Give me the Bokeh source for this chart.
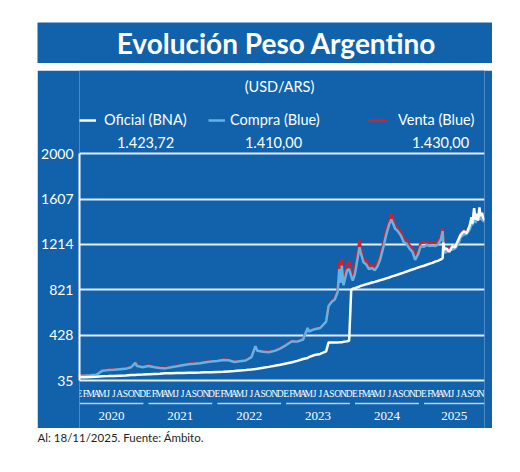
import pandas as pd
from bokeh.plotting import figure
from bokeh.models import Range1d, FixedTicker, Legend, LegendItem, Spacer
from bokeh.layouts import column, row
from bokeh.embed import file_html
from bokeh.resources import INLINE
from bokeh.core.properties import value

# ---------------- data ----------------
fechas = [
    "2020-01-01", "2020-02-01", "2020-03-01", "2020-04-01", "2020-05-01", "2020-06-01",
    "2020-07-01", "2020-08-01", "2020-09-01", "2020-10-01", "2020-10-23", "2020-11-01",
    "2020-12-01", "2021-01-01", "2021-02-01", "2021-03-01", "2021-04-01", "2021-05-01",
    "2021-06-01", "2021-07-01", "2021-08-01", "2021-09-01", "2021-10-01", "2021-11-01",
    "2021-12-01", "2022-01-01", "2022-02-01", "2022-03-01", "2022-04-01", "2022-05-01",
    "2022-06-01", "2022-07-01", "2022-07-22", "2022-08-01", "2022-09-01", "2022-10-01",
    "2022-11-01", "2022-12-01", "2023-01-01", "2023-02-01", "2023-03-01", "2023-04-01",
    "2023-04-25", "2023-05-01", "2023-06-01", "2023-07-01", "2023-08-01", "2023-08-14",
    "2023-09-01", "2023-09-15", "2023-10-01", "2023-10-10", "2023-10-16", "2023-10-23",
    "2023-11-01", "2023-11-10", "2023-11-20", "2023-12-01", "2023-12-12", "2023-12-20",
    "2024-01-01", "2024-01-25", "2024-02-01", "2024-02-15", "2024-03-01", "2024-03-15",
    "2024-04-01", "2024-04-15", "2024-05-01", "2024-05-15", "2024-06-01", "2024-06-15",
    "2024-07-01", "2024-07-12", "2024-07-20", "2024-08-01", "2024-08-15", "2024-09-01",
    "2024-09-15", "2024-10-01", "2024-10-15", "2024-11-01", "2024-11-15", "2024-12-01",
    "2024-12-15", "2025-01-01", "2025-01-15", "2025-02-01", "2025-02-15", "2025-03-01",
    "2025-03-15", "2025-04-01", "2025-04-10", "2025-04-14", "2025-04-20", "2025-05-01",
    "2025-05-15", "2025-06-01", "2025-06-15", "2025-07-01", "2025-07-15", "2025-08-01",
    "2025-08-15", "2025-09-01", "2025-09-10", "2025-09-15", "2025-09-24", "2025-10-01",
    "2025-10-10", "2025-10-15", "2025-10-22", "2025-10-28", "2025-11-05", "2025-11-10",
    "2025-11-18",
]
oficial = [
    63, 64, 66, 68, 71, 73, 75, 77, 79, 82, 83, 84,
    86, 89, 92, 94, 97, 98, 100, 101, 102, 103, 104, 106,
    107, 109, 111, 114, 117, 122, 126, 131, 135, 137, 145, 153,
    162, 171, 183, 193, 205, 221, 230, 237, 256, 265, 287, 365,
    365, 365, 365, 366, 367, 367, 370, 372, 375, 380, 820, 830,
    835, 850, 855, 862, 870, 876, 884, 890, 898, 905, 913, 920,
    928, 935, 940, 945, 953, 962, 970, 980, 988, 997, 1005, 1015,
    1022, 1030, 1038, 1048, 1055, 1065, 1072, 1085, 1095, 1230, 1170, 1180,
    1150, 1200, 1190, 1250, 1300, 1330, 1310, 1380, 1450, 1395, 1530, 1430,
    1480, 1420, 1535, 1460, 1490, 1450, 1423.72,
]
compra = [
    76, 78, 80, 86, 120, 125, 128, 132, 136, 150, 188, 160,
    150, 160, 150, 144, 140, 150, 158, 168, 176, 180, 185, 194,
    200, 205, 212, 210, 196, 202, 208, 238, 333, 292, 284, 280,
    292, 312, 342, 376, 372, 390, 490, 460, 480, 490, 545, 680,
    720, 735, 800, 1000, 880, 1030, 860, 920, 990, 1000, 940, 900,
    960, 1190, 1140, 1060, 1040, 1000, 1010, 990, 1030, 1090, 1200, 1300,
    1390, 1430, 1400, 1350, 1330, 1290, 1235, 1220, 1180, 1150, 1080, 1130,
    1200, 1195, 1210, 1200, 1205, 1200, 1210, 1260, 1330, 1200, 1140, 1150,
    1165, 1170, 1180, 1215, 1280, 1300, 1305, 1345, 1400, 1380, 1500, 1400,
    1450, 1440, 1505, 1430, 1440, 1420, 1410,
]
venta = [
    80, 82, 84, 90, 124, 129, 132, 136, 140, 155, 195, 165,
    154, 165, 154, 148, 144, 154, 162, 172, 180, 184, 189, 198,
    204, 209, 216, 214, 200, 206, 212, 242, 338, 296, 288, 284,
    296, 316, 346, 380, 376, 394, 495, 465, 484, 494, 550, 685,
    730, 745, 815, 1060, 905, 1090, 900, 955, 1040, 1070, 990, 950,
    1000, 1250, 1180, 1090, 1070, 1025, 1035, 1015, 1060, 1125, 1240, 1340,
    1420, 1480, 1440, 1380, 1360, 1320, 1270, 1250, 1210, 1180, 1110, 1160,
    1230, 1230, 1235, 1225, 1230, 1225, 1235, 1290, 1360, 1230, 1170, 1175,
    1190, 1195, 1200, 1240, 1310, 1330, 1330, 1370, 1430, 1405, 1525, 1425,
    1480, 1465, 1535, 1455, 1460, 1445, 1430,
]

series = ["Oficial (BNA)", "Compra (Blue)", "Venta (Blue)"]
ultimos = ["1.423,72", "1.410,00", "1.430,00"]
y_ticks = [35, 428, 821, 1214, 1607, 2000]
letras_mes = ["E", "F", "M", "A", "M", "J", "J", "A", "S", "O", "N", "D"]
anios = [2020, 2021, 2022, 2023, 2024, 2025]
titulo = "Evolución Peso Argentino"
subtitulo = "(USD/ARS)"
nota = "Al: 18/11/2025. Fuente: Ámbito."

# ---------------- style ----------------
AZUL = "#1162AA"
CELESTE = "#62B3E6"
ROJO = "#D3202E"
GRILLA = "#E3EEF8"
FONT = "Lato"
NARROW = "Liberation Sans Narrow"

x = pd.to_datetime(fechas)
x_start = pd.Timestamp("2020-01-01")
x_end = x.max()

# ---------------- title figure ----------------
t = figure(width=455, height=41, output_backend="svg", toolbar_location=None, title=None,
           x_range=Range1d(37, 492), y_range=Range1d(63, 22),
           x_axis_location=None, y_axis_location=None, min_border=0,
           background_fill_color=AZUL, border_fill_color=AZUL, outline_line_color=None)
t.grid.visible = False
t.text(x=[276], y=[42.5], text=[titulo], text_align="center", text_baseline="middle",
       text_color="white", text_font=value(FONT), text_font_style="bold",
       text_font_size="28px")

# ---------------- main figure ----------------
p = figure(width=455, height=358, output_backend="svg", toolbar_location=None, title=None,
           x_axis_type="datetime", x_axis_location=None,
           x_range=Range1d(x_start, x_end), y_range=Range1d(-381, 2722),
           min_border_left=42, min_border_right=8, min_border_top=0, min_border_bottom=0,
           background_fill_color=AZUL, border_fill_color=AZUL, outline_line_color=None)
p.extra_x_ranges = {"px": Range1d(79, 484)}
p.extra_y_ranges = {"py": Range1d(428, 70)}

p.xgrid.visible = False
p.yaxis.ticker = FixedTicker(ticks=y_ticks)
p.yaxis.bounds = (35, 2000)
p.yaxis.axis_line_color = "white"
p.yaxis.axis_line_width = 2
p.yaxis.major_tick_in = 0
p.yaxis.major_tick_out = 0
p.yaxis.minor_tick_line_color = None
p.yaxis.major_label_text_color = "white"
p.yaxis.major_label_text_font = FONT
p.yaxis.major_label_text_font_size = "14px"
p.yaxis.major_label_standoff = 6
p.ygrid.grid_line_color = GRILLA
p.ygrid.grid_line_width = 2

r_v = p.line(x, venta, line_color=ROJO, line_width=2.5)
r_c = p.line(x, compra, line_color=CELESTE, line_width=2.5)
r_o = p.line(x, oficial, line_color="white", line_width=2.5)

leg_specs = [(r_o, series[0], 0, 17, 8), (r_c, series[1], 129, 17, 5), (r_v, series[2], 289, 19, 11)]
for rend, lab, lx, gw, st in leg_specs:
    leg = Legend(items=[LegendItem(label=lab, renderers=[rend])], location=(lx, 300),
                 orientation="horizontal", glyph_width=gw, glyph_height=16, label_height=16,
                 label_standoff=st, padding=0, margin=0, spacing=0,
                 background_fill_alpha=0, border_line_color=None,
                 label_text_color="white", label_text_font=FONT, label_text_font_size="14.5px")
    p.add_layout(leg)

p.text(x=[279], y=[85.5], text=[subtitulo], x_range_name="px", y_range_name="py",
       text_align="center", text_baseline="middle", text_color="white",
       text_font=value(FONT), text_font_size="14.5px")
p.text(x=[145, 273, 440], y=[142] * 3, text=ultimos, x_range_name="px", y_range_name="py",
       text_align="center", text_baseline="middle", text_color="white",
       text_font=value(FONT), text_font_size="14.5px")

# month letters
meses = pd.date_range("2020-01-01", "2025-11-01", freq="MS")
p.text(x=list(meses), y=[393] * len(meses), text=[letras_mes[m.month - 1] for m in meses],
       y_range_name="py", text_align="center", text_baseline="middle",
       text_color="white", text_font=value(NARROW), text_font_size="9.5px")

# year underlines and labels
ini = [pd.Timestamp(f"{a}-01-01") for a in anios]
fin = [min(pd.Timestamp(f"{a}-12-05"), x_end) for a in anios]
mid = [a + (b - a) / 2 for a, b in zip(ini, fin)]
p.segment(x0=ini, y0=[403] * len(anios), x1=fin, y1=[403] * len(anios), y_range_name="py",
          line_color="#B5D4F0", line_width=1.5)
p.text(x=mid, y=[415.5] * len(anios), text=[str(a) for a in anios], y_range_name="py",
       text_align="center", text_baseline="middle", text_color="white",
       text_font=value(NARROW), text_font_size="13px")

# ---------------- footnote figure ----------------
f = figure(width=455, height=24, output_backend="svg", toolbar_location=None, title=None,
           x_range=Range1d(37, 492), y_range=Range1d(452, 428),
           x_axis_location=None, y_axis_location=None, min_border=0,
           background_fill_color="white", border_fill_color="white", outline_line_color=None)
f.grid.visible = False
f.text(x=[37], y=[437], text=[nota], text_align="left", text_baseline="middle",
       text_color="#231F20", text_font=value(FONT), text_font_size="11.5px")

layout = column(
    Spacer(width=492, height=22),
    row(Spacer(width=37, height=41), t),
    Spacer(width=492, height=7),
    row(Spacer(width=37, height=358), p),
    row(Spacer(width=37, height=24), f),
)

open("out.html", "w").write(file_html(layout, INLINE))
